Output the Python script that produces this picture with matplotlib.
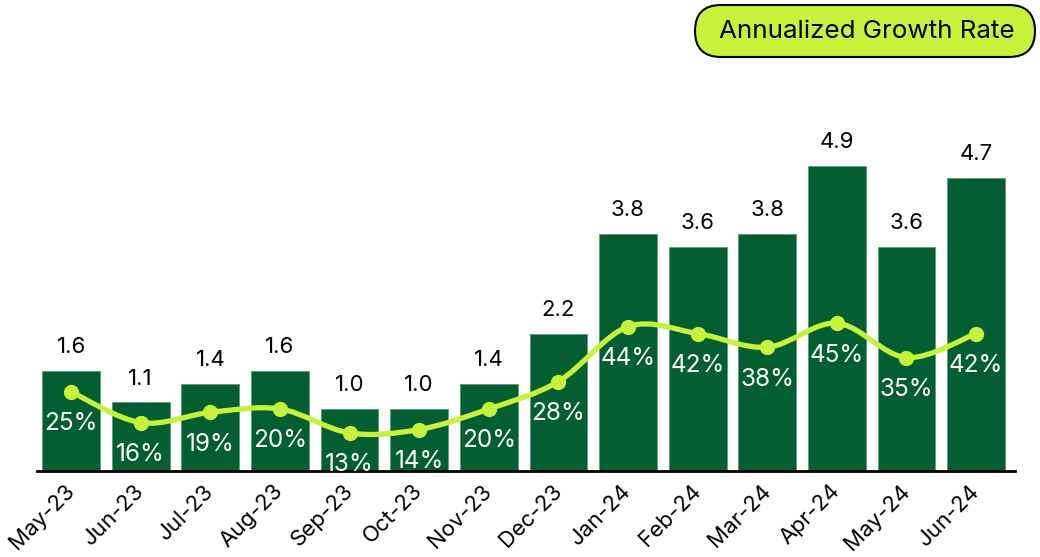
import matplotlib
matplotlib.use("Agg")
import matplotlib.pyplot as plt
import matplotlib.transforms as mtransforms
from matplotlib.path import Path
from matplotlib.patches import PathPatch, FancyBboxPatch

plt.rcParams['font.family'] = ['Inter', 'DejaVu Sans']

months = ['May-23', 'Jun-23', 'Jul-23', 'Aug-23', 'Sep-23', 'Oct-23', 'Nov-23',
          'Dec-23', 'Jan-24', 'Feb-24', 'Mar-24', 'Apr-24', 'May-24', 'Jun-24']
values = [1.6, 1.1, 1.4, 1.6, 1.0, 1.0, 1.4, 2.2, 3.8, 3.6, 3.8, 4.9, 3.6, 4.7]
growth = [25, 16, 19, 20, 13, 14, 20, 28, 44, 42, 38, 45, 35, 42]

dark = '#035f31'
lime = '#c6f23c'

fig = plt.figure(figsize=(10.4, 5.57), dpi=100)
ax = fig.add_axes([0.0356, 0.1544, 0.9404, 0.666])
x = list(range(len(months)))

ax.bar(x, values, width=0.83, color=dark, edgecolor='#5e9a78', linewidth=0.6, zorder=2)
for xi, v in zip(x, values):
    ax.annotate(f'{v:.1f}', (xi, v), xytext=(0, 10), textcoords='offset points',
                ha='center', va='bottom', fontsize=16, color='black')

ax.set_xlim(-0.49, 13.56)
ax.set_ylim(0, 5.95)
ax.set_xticks(x)
ax.set_xticklabels(months, rotation=45, ha='right', va='center',
                   rotation_mode='anchor', fontsize=16)
shift = mtransforms.ScaledTranslation(6 / 72, 0, fig.dpi_scale_trans)
for lbl in ax.get_xticklabels():
    lbl.set_transform(lbl.get_transform() + shift)
ax.tick_params(axis='x', length=0, pad=12)
ax.set_yticks([])
for s in ['top', 'right', 'left']:
    ax.spines[s].set_visible(False)
ax.spines['bottom'].set_linewidth(2)
ax.spines['bottom'].set_zorder(5)

ax2 = ax.twinx()
ax2.set_ylim(1.9, 110.1)
ax2.set_yticks([])
for s in ax2.spines.values():
    s.set_visible(False)

# smooth curve through the points (Catmull-Rom as cubic Bezier)
pts = list(zip(x, growth))
verts = [pts[0]]
codes = [Path.MOVETO]
n = len(pts)
for i in range(n - 1):
    p0 = pts[max(i - 1, 0)]
    p1 = pts[i]
    p2 = pts[i + 1]
    p3 = pts[min(i + 2, n - 1)]
    c1 = (p1[0] + (p2[0] - p0[0]) / 6, p1[1] + (p2[1] - p0[1]) / 6)
    c2 = (p2[0] - (p3[0] - p1[0]) / 6, p2[1] - (p3[1] - p1[1]) / 6)
    verts += [c1, c2, p2]
    codes += [Path.CURVE4] * 3
ax2.add_patch(PathPatch(Path(verts, codes), facecolor='none', edgecolor=lime,
                        linewidth=3.8, capstyle='round', zorder=3))
ax2.plot(x, growth, 'o', color=lime, markersize=10, zorder=4)
for xi, g in zip(x, growth):
    ax2.annotate(f'{g}%', (xi, g), xytext=(0, -23), textcoords='offset points',
                 ha='center', va='center', fontsize=17.5, color='white', zorder=5)

# legend pill, in pixel coordinates
pill = FancyBboxPatch((695, 557 - 57), 340, 52, boxstyle='round,pad=0,rounding_size=26',
                      facecolor=lime, edgecolor='black', linewidth=1.5,
                      transform=mtransforms.IdentityTransform())
fig.patches.append(pill)
fig.text(867 / 1040, 1 - 31 / 557, 'Annualized Growth Rate', ha='center', va='center',
         fontsize=18.7, color='black')

fig.savefig('out.png', dpi=100)
